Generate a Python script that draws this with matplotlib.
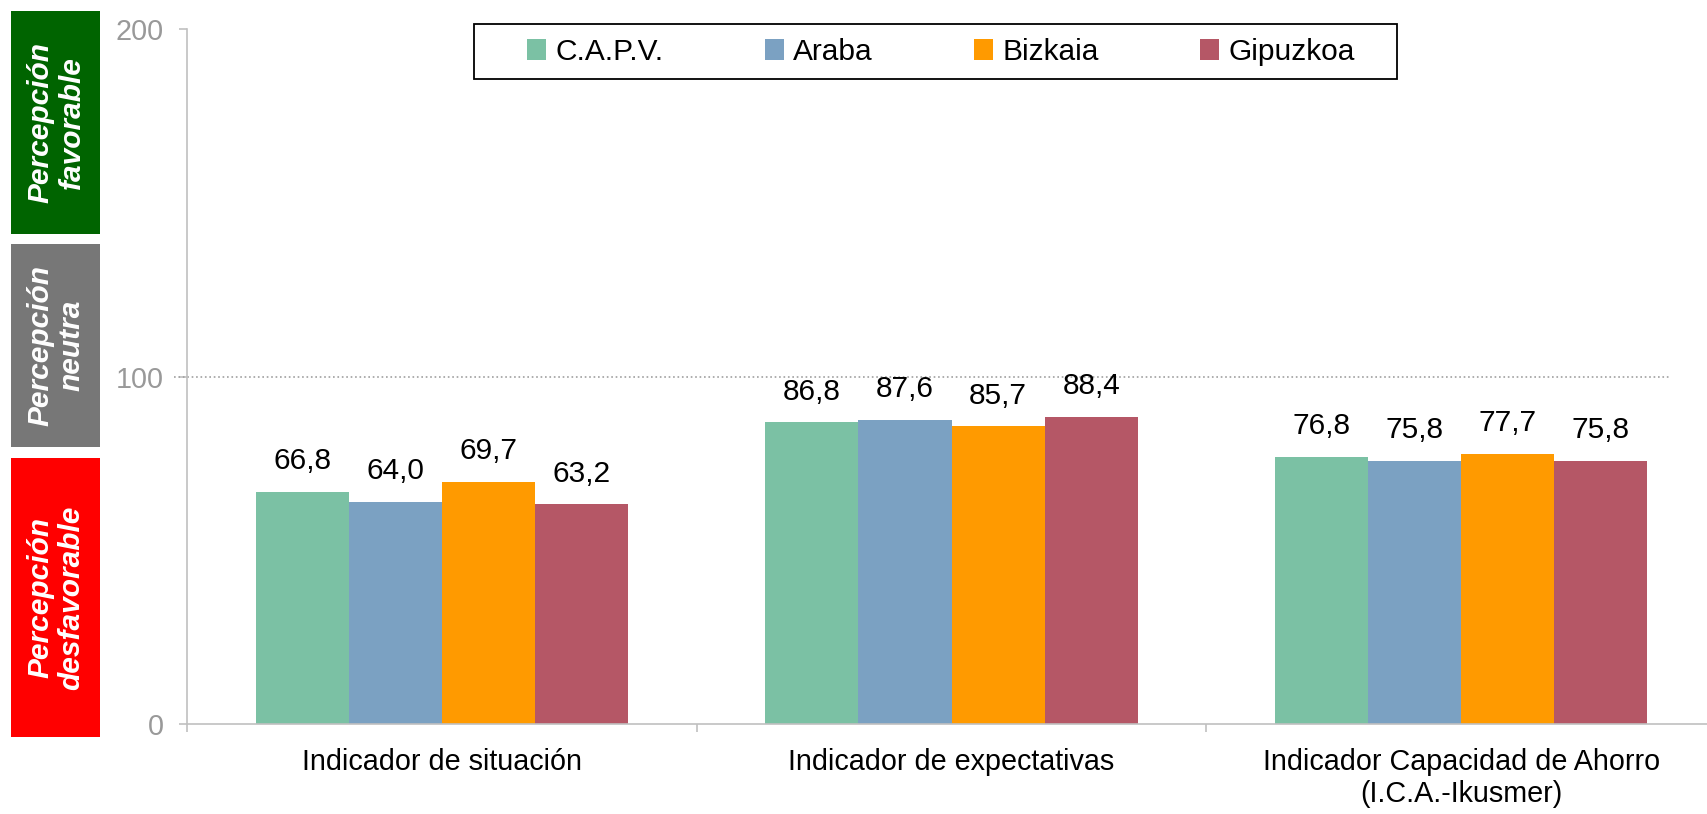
import numpy as np
import matplotlib.pyplot as plt
from matplotlib.patches import Rectangle

plt.rcParams['font.family'] = ['Liberation Sans', 'DejaVu Sans']

categories = ['Indicador de situación', 'Indicador de expectativas',
              'Indicador Capacidad de Ahorro\n(I.C.A.-Ikusmer)']
series = ['C.A.P.V.', 'Araba', 'Bizkaia', 'Gipuzkoa']
capv = [66.8, 86.8, 76.8]
araba = [64.0, 87.6, 75.8]
bizkaia = [69.7, 85.7, 77.7]
gipuzkoa = [63.2, 88.4, 75.8]
colors = ['#7BC1A4', '#7BA1C2', '#FF9A00', '#B55766']

fs = 20.7
fs_big = 21.5
W, H = 1707, 814
fig = plt.figure(figsize=(W / 100, H / 100), dpi=100)
ax = fig.add_axes([187 / W, 1 - 724 / H, 1529 / W, 695 / H])

x = np.arange(len(categories))
width = 0.1827
for i, (name, vals) in enumerate(zip(series, [capv, araba, bizkaia, gipuzkoa])):
    rects = ax.bar(x + (i - 1.5) * width, vals, width, color=colors[i], label=name)
    for r, v in zip(rects, vals):
        ax.annotate(f"{v:.1f}".replace('.', ','),
                    xy=(r.get_x() + r.get_width() / 2, v),
                    xytext=(0, 12), textcoords='offset points',
                    ha='center', va='bottom', fontsize=fs_big, color='black')

ax.set_xlim(-0.5, 2.5)
ax.set_ylim(0, 200)

axis_grey = '#C0C0C0'
for s in ['top', 'right']:
    ax.spines[s].set_visible(False)
for s in ['left', 'bottom']:
    ax.spines[s].set_color(axis_grey)
    ax.spines[s].set_linewidth(1.2)

ax.set_yticks([0, 100, 200])
ax.tick_params(axis='y', direction='out', length=6, width=1.2, color=axis_grey,
               labelsize=fs, labelcolor='#999999', pad=11)

# tick marks between groups, labels at the group centres
ax.set_xticks([-0.5, 0.5, 1.5, 2.5])
ax.set_xticklabels([])
ax.tick_params(axis='x', which='major', direction='out', length=6, width=1.2, color=axis_grey)
ax.set_xticks(x, minor=True)
ax.set_xticklabels(categories, minor=True, fontsize=fs)
ax.tick_params(axis='x', which='minor', length=0, pad=17)

# dotted line at 100 only
ax.axhline(100, xmin=-0.0085, xmax=0.9706, color='#A0A0A0', linestyle=':',
           linewidth=1.2, clip_on=False)

# legend with its own frame
fig.patches.append(Rectangle((474 / W, 1 - 79 / H), 923 / W, 55 / H, transform=fig.transFigure,
                             facecolor='white', edgecolor='black', linewidth=1.3, zorder=5))
leg = fig.legend(loc='center', bbox_to_anchor=(0.5513, 1 - 52 / H), ncol=4, frameon=False,
                 fontsize=fs_big, handlelength=0.64, handleheight=0.7, handletextpad=0.3,
                 columnspacing=3.4, borderpad=0)
leg.set_zorder(6)

# perception boxes on the left
boxes = [
    (11, 234, '#006400', 'Percepción\nfavorable'),
    (244, 447, '#777777', 'Percepción\nneutra'),
    (458, 737, '#FF0000', 'Percepción\ndesfavorable'),
]
for top, bottom, col, txt in boxes:
    fig.patches.append(Rectangle((11 / W, 1 - bottom / H), 89 / W, (bottom - top) / H,
                                 transform=fig.transFigure, facecolor=col, edgecolor='none'))
    fig.text(56 / W, 1 - (top + bottom) / 2 / H, txt, rotation=90, ha='center', va='center',
             color='white', fontsize=fs_big, fontweight='bold', fontstyle='italic',
             linespacing=1.15, multialignment='center')

fig.savefig('out.png', dpi=100)
